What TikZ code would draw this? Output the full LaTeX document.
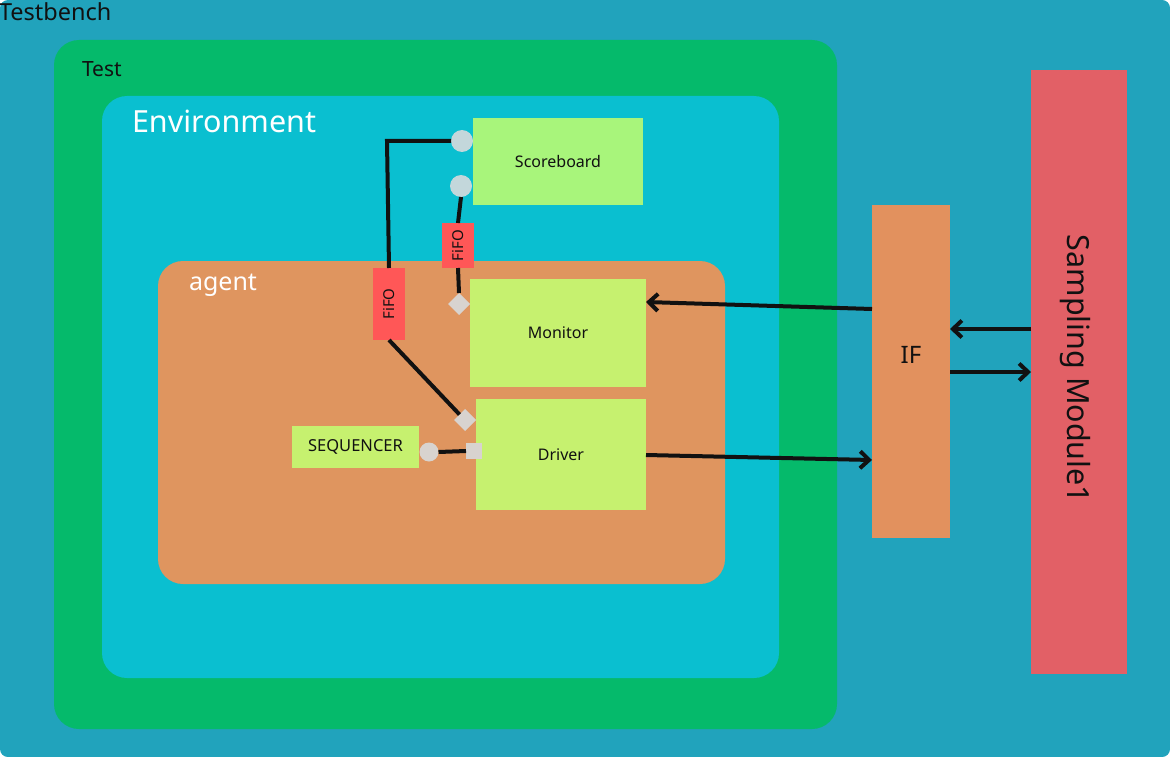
\documentclass[tikz,border=0pt]{standalone}
\usepackage{fontspec}
\setmainfont{Noto Sans}
\usetikzlibrary{arrows.meta,shapes.geometric}
\definecolor{tbbg}{HTML}{21A3BC}
\definecolor{testg}{HTML}{05BA6B}
\definecolor{envc}{HTML}{0ABFD0}
\definecolor{agento}{HTML}{DF955F}
\definecolor{sbg}{HTML}{A8F57B}
\definecolor{blkg}{HTML}{C6F16F}
\definecolor{fifor}{HTML}{FF5757}
\definecolor{ifo}{HTML}{E2915E}
\definecolor{smr}{HTML}{E26066}
\definecolor{portb}{HTML}{C3D7DB}
\definecolor{portg}{HTML}{D8D3CF}
\definecolor{ink}{HTML}{111111}
\tikzset{
  box/.style={inner sep=0pt, outer sep=0pt, draw=none, text=ink},
  cont/.style={box, rounded corners=25pt},
  lbl/.style={inner sep=0pt, outer sep=0pt, anchor=base west},
  blk/.style={box, fill=blkg, font=\fontsize{16}{19}\selectfont},
  fifobox/.style={box, fill=fifor, minimum width=32pt, font=\fontsize{15}{18}\selectfont},
  wire/.style={draw=ink, line width=4pt},
  arr/.style={wire, -{Straight Barb[length=9pt,width=17pt]}},
}
\begin{document}
\begin{tikzpicture}[x=1pt,y=-1pt]
\useasboundingbox (0,0) rectangle (1170,757);
% containers
\node[box, fill=tbbg, rounded corners=8pt, minimum width=1170pt, minimum height=757pt] (tb) at (585,378.5) {};
\node[cont, fill=testg, minimum width=783pt, minimum height=689pt] (test) at (445.5,384.5) {};
\node[cont, fill=envc, minimum width=677pt, minimum height=582pt] (env) at (440.5,387) {};
\node[cont, fill=agento, minimum width=567pt, minimum height=323pt] (agent) at (441.5,422.5) {};
% container labels
\node[lbl, text=ink, font=\fontsize{23.5}{27}\selectfont] (tbl) at (-1,21) {Testbench};
\node[lbl, text=ink, font=\fontsize{21}{24}\selectfont] (testl) at (82,77) {Test};
\node[lbl, text=white, font=\fontsize{30.5}{34}\selectfont] (envl) at (132,132) {Environment};
\node[lbl, text=white, font=\fontsize{25}{28}\selectfont] (agentl) at (189,290) {agent};
% blocks
\coordinate (corner) at (387,141);
\node[box, fill=sbg, minimum width=170pt, minimum height=87pt, font=\fontsize{16}{19}\selectfont] (sb) at (558,161.5) {Scoreboard};
\node[blk, minimum width=176pt, minimum height=108pt] (mon) at (558,333) {Monitor};
\node[blk, minimum width=170pt, minimum height=111pt] (drv) at (561,454.5) {Driver};
\node[blk, minimum width=127pt, minimum height=42pt, font=\fontsize{16.5}{19}\selectfont] (seq) at (355.5,447) {SEQUENCER};
\node[fifobox, minimum height=72pt] (f1) at (389,304) {\rotatebox{90}{FiFO}};
\node[fifobox, minimum height=45pt] (f2) at (458,245.5) {\rotatebox{90}{FiFO}};
% ports
\node[circle, box, fill=portb, minimum size=22pt] (c1) at (462,141) {};
\node[circle, box, fill=portb, minimum size=22pt] (c2) at (461,186) {};
\node[diamond, box, fill=portg, minimum size=22pt] (d1) at (459,304) {};
\node[diamond, box, fill=portg, minimum size=22pt] (d2) at (465,420) {};
\node[box, fill=portg, minimum size=16pt] (sq) at (474,451) {};
\node[circle, box, fill=portg, minimum size=19pt] (sc) at (429,452) {};
% IF and sampling module
\node[box, fill=ifo, minimum width=78pt, minimum height=333pt] (if) at (911,371.5) {};
\node[inner sep=0pt, text=ink, font=\fontsize{24}{28}\selectfont] (ifl) at (911,355) {IF};
\node[box, fill=smr, minimum width=96pt, minimum height=604pt] (sm) at (1079,372) {};
\node[inner sep=0pt, text=ink, font=\fontsize{30.5}{34}\selectfont, rotate=-90] (sml) at (1075,369) {Sampling Module1};
% connectors
\draw[wire, line cap=butt] (c1.west) -- (corner) -- (f1.north);
\draw[wire] (c2.south) -- (f2.north);
\draw[wire] (f2.south) -- (d1.north);
\draw[wire] (f1.south) -- (d2.north west);
\draw[wire] (sc.east) -- (sq.west);
\draw[arr] (if.west |- 0,309) -- (mon.east |- 0,302);
\draw[arr] (drv.east |- 0,455) -- (if.west |- 0,460);
\draw[arr] (sm.west |- 0,329) -- (if.east |- 0,329);
\draw[arr] (if.east |- 0,372) -- (sm.west |- 0,372);
\end{tikzpicture}
\end{document}
